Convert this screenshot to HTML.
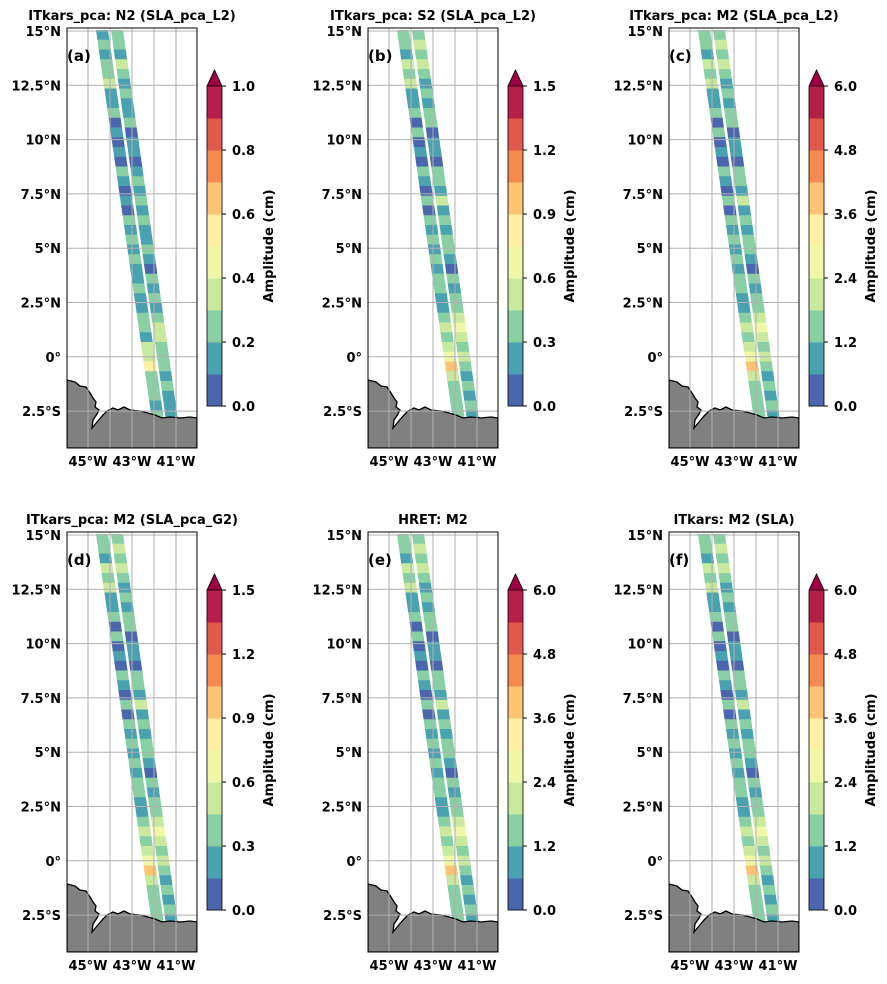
<!DOCTYPE html>
<html><head><meta charset="utf-8">
<style>
body{margin:0;background:#fff;}
svg text{font-family:"DejaVu Sans","Liberation Sans",sans-serif;font-weight:bold;fill:#000;}
</style></head>
<body>
<svg id="fig" width="887" height="979" xmlns="http://www.w3.org/2000/svg"></svg>
<script>
// ---- data ----
const panelTitles = ["ITkars_pca: N2 (SLA_pca_L2)","ITkars_pca: S2 (SLA_pca_L2)","ITkars_pca: M2 (SLA_pca_L2)","ITkars_pca: M2 (SLA_pca_G2)","HRET: M2","ITkars: M2 (SLA)"];
const panelLetters = ["(a)","(b)","(c)","(d)","(e)","(f)"];
const cbarMax = [1.0,1.5,6.0,1.5,6.0,6.0];
const cbarTicks = [["0.0","0.2","0.4","0.6","0.8","1.0"],["0.0","0.3","0.6","0.9","1.2","1.5"],["0.0","1.2","2.4","3.6","4.8","6.0"],["0.0","0.3","0.6","0.9","1.2","1.5"],["0.0","1.2","2.4","3.6","4.8","6.0"],["0.0","1.2","2.4","3.6","4.8","6.0"]];
const panelScale = [0.7,0.85,0.85,0.85,0.8,0.85];
const latTicks = [15,12.5,10,7.5,5,2.5,0,-2.5];
const latLabels = ["15°N","12.5°N","10°N","7.5°N","5°N","2.5°N","0°","2.5°S"];
const lonTicks = [-45,-43,-41];
const lonLabels = ["45°W","43°W","41°W"];
// along-track amplitude fractions (of colorbar max), north -> south, left & right swath
const swathL = [0.25,0.35,0.2,0.4,0.3,0.45,0.2,0.15,0.3,0.1,0.25,0.05,0.2,0.1,0.35,0.15,0.05,0.25,0.1,0.3,0.2,0.35,0.15,0.3,0.2,0.25,0.35,0.2,0.15,0.3,0.4,0.25,0.45,0.55,0.75,0.4,0.3,0.35,0.25,0.3];
const swathR = [0.3,0.4,0.25,0.45,0.35,0.2,0.3,0.15,0.25,0.35,0.1,0.2,0.15,0.05,0.25,0.3,0.15,0.4,0.2,0.3,0.15,0.25,0.35,0.2,0.1,0.3,0.2,0.35,0.25,0.4,0.5,0.45,0.3,0.4,0.35,0.2,0.3,0.15,0.25,0.2];
const colors = ["#4a67ae","#4aa2b1","#88cfa4","#c9e99e","#f0f8a8","#fff0a6","#fdc474","#f68b52","#e0594a","#b61f4a"];
// ---- drawing ----
const svg=document.getElementById('fig');
const NS="http://www.w3.org/2000/svg";
function el(tag,attrs,parent){const e=document.createElementNS(NS,tag);for(const k in attrs)e.setAttribute(k,attrs[k]);(parent||svg).appendChild(e);return e;}
const W=130,H=420;
function yOf(lat){return 31+(15-lat)*21.72;}
function xOf(lon){return 88+(lon+45)*22;}
for(let p=0;p<6;p++){
  const ox=(p%3)*301, oy=Math.floor(p/3)*504;
  const g=el('g',{transform:`translate(${ox},${oy})`});
  
  
  const mx=67,my=28;
  const clipId='clip'+p;
  const cp=el('clipPath',{id:clipId},g); el('rect',{x:mx,y:my,width:W,height:H},cp);
  const inner=el('g',{'clip-path':`url(#${clipId})`},g);
  const n=swathL.length;
  const sw=[[96,108,152,164,swathL],[111,123,166,178,swathR]];
  sw.forEach((s,si)=>{
    for(let i=0;i<n;i++){
      const t0=i/n,t1=(i+1)/n;
      const y0=my+2+t0*390,y1=my+2+t1*390;
      const a0=s[0]+(s[2]-s[0])*t0,b0=s[1]+(s[3]-s[1])*t0,a1=s[0]+(s[2]-s[0])*t1,b1=s[1]+(s[3]-s[1])*t1;
      const v=s[4][i]*panelScale[p];
      const lv=Math.min(9,Math.floor(v*10));
      const q=el('polygon',{points:`${a0},${y0} ${b0},${y0} ${b1},${y1+0.5} ${a1},${y1+0.5}`,fill:colors[lv]},inner);
      
      
    }
  });
  const land=el('polygon',{points:"67,380 75,382 80,386 86,387 90,393 93,398 96,402 95,407 99,410 97,414 93,420 92,428 97,422 103,415 107,411 113,408 118,410 124,407 130,410 140,411 148,413 155,415 162,418 170,417 180,418 190,417 197,418 197,448 67,448",fill:"#808080",stroke:"#000","stroke-width":1.3},inner);
  
  
  for(let lon=-46;lon<=-41;lon++){const l=el('line',{x1:xOf(lon),x2:xOf(lon),y1:my,y2:my+H,stroke:"#b0b0b0","stroke-width":1},inner);}
  latTicks.forEach(lat=>{const l=el('line',{x1:mx,x2:mx+W,y1:yOf(lat),y2:yOf(lat),stroke:"#b0b0b0","stroke-width":1},inner);});
  const fr=el('rect',{x:mx,y:my,width:W,height:H,fill:"none",stroke:"#000","stroke-width":1},g);
  
  const tt=el('text',{x:132,y:20,'text-anchor':'middle','font-size':13},g);tt.textContent=panelTitles[p];
  
  const lt=el('text',{x:67,y:61,'font-size':15},g);lt.textContent=panelLetters[p];
  
  latTicks.forEach((lat,i)=>{const t=el('text',{x:61,y:yOf(lat)+5,'text-anchor':'end','font-size':13},g);t.textContent=latLabels[i];});
  lonTicks.forEach((lon,i)=>{const t=el('text',{x:xOf(lon),y:my+H+18,'text-anchor':'middle','font-size':13},g);t.textContent=lonLabels[i];});
  const cx=207,cw=15,ct=86,cb=406,bh=(cb-ct)/10;
  const cbg=el('g',{},g);
  for(let k=0;k<10;k++){el('rect',{x:cx,y:cb-(k+1)*bh,width:cw,height:bh+0.5,fill:colors[k]},cbg);}
  el('polygon',{points:`${cx},${ct} ${cx+cw/2},${ct-16} ${cx+cw},${ct}`,fill:"#9e0142",stroke:"#000","stroke-width":0.8},cbg);
  el('polyline',{points:`${cx},${ct} ${cx},${cb} ${cx+cw},${cb} ${cx+cw},${ct}`,fill:"none",stroke:"#000","stroke-width":0.8},cbg);
  cbarTicks[p].forEach((lab,i)=>{const y=cb-i*(cb-ct)/5;
    el('line',{x1:cx+cw,x2:cx+cw+4,y1:y,y2:y,stroke:"#000"},cbg);
    const t=el('text',{x:cx+cw+10,y:y+5,'font-size':13},cbg);t.textContent=lab;});
  const cl=el('text',{x:0,y:0,'text-anchor':'middle','font-size':13,transform:`translate(273,246) rotate(-90)`},g);cl.textContent="Amplitude (cm)";
  
}
</script>
</body></html>
